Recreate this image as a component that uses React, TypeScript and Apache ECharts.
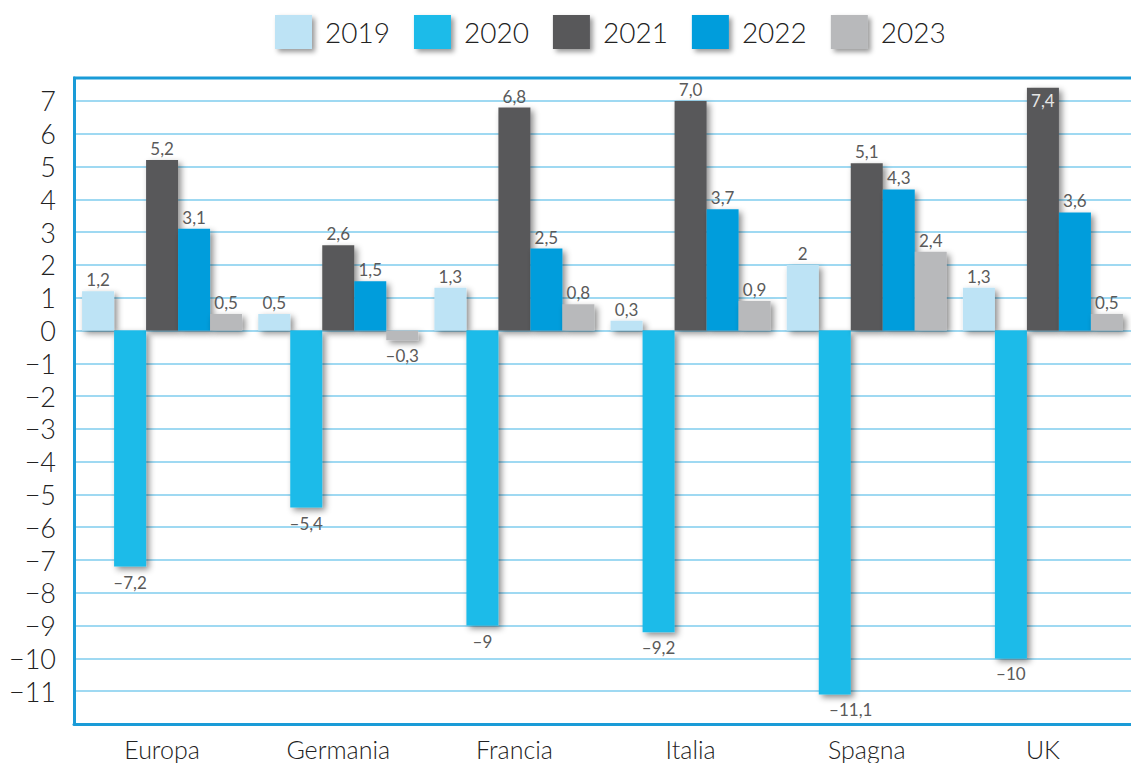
import React, { useEffect, useRef } from "react";
import * as echarts from "echarts";

const categories = ["Europa", "Germania", "Francia", "Italia", "Spagna", "UK"];
const years = ["2019", "2020", "2021", "2022", "2023"];
const values2019 = [1.2, 0.5, 1.3, 0.3, 2, 1.3];
const values2020 = [-7.2, -5.4, -9, -9.2, -11.1, -10];
const values2021 = [5.2, 2.6, 6.8, 7.0, 5.1, 7.4];
const values2022 = [3.1, 1.5, 2.5, 3.7, 4.3, 3.6];
const values2023 = [0.5, -0.3, 0.8, 0.9, 2.4, 0.5];
const labels2019 = ["1,2", "0,5", "1,3", "0,3", "2", "1,3"];
const labels2020 = ["–7,2", "–5,4", "–9", "–9,2", "–11,1", "–10"];
const labels2021 = ["5,2", "2,6", "6,8", "7,0", "5,1", "7,4"];
const labels2022 = ["3,1", "1,5", "2,5", "3,7", "4,3", "3,6"];
const labels2023 = ["0,5", "–0,3", "0,8", "0,9", "2,4", "0,5"];
const yTicks = [-11, -10, -9, -8, -7, -6, -5, -4, -3, -2, -1, 0, 1, 2, 3, 4, 5, 6, 7];

const colors = ["#bde3f5", "#1cbbe9", "#58585a", "#009ddc", "#b8b9bb"];
const allValues = [values2019, values2020, values2021, values2022, values2023];
const allLabels = [labels2019, labels2020, labels2021, labels2022, labels2023];

const labelFont = "'Liberation Sans Narrow', 'Lato', sans-serif";
const mainFont = "'Lato', 'DejaVu Sans', sans-serif";
const frameColor = "#1a9bd7";

export default function App() {
  const ref = useRef<HTMLDivElement>(null);
  useEffect(() => {
    if (!ref.current) return;
    const chart = echarts.init(ref.current, null, { renderer: "svg" });
    const series = years.map((y, si) => ({
      name: y,
      type: "bar",
      barWidth: 32,
      barGap: "0%",
      itemStyle: {
        color: colors[si],
        shadowColor: "rgba(0,0,0,0.45)",
        shadowBlur: 6,
        shadowOffsetX: 3,
        shadowOffsetY: 3,
      },
      data: allValues[si].map((v, ci) => {
        const text = allLabels[si][ci];
        const neg = v < 0;
        const item: any = {
          value: v,
          label: {
            show: true,
            position: neg ? "bottom" : "top",
            distance: neg ? 7 : 3,
            formatter: () => text,
            fontFamily: labelFont,
            fontSize: 17,
            color: "#5a5a5a",
          },
        };
        if (si === 2 && ci === 5) {
          item.label.position = "insideTop";
          item.label.distance = 4;
          item.label.color = "#e6e6e6";
        }
        if (si === 1 && ci === 4) {
          item.label.offset = [16, 0];
        }
        return item;
      }),
    }));
    chart.setOption({
      animation: false,
      color: colors,
      legend: {
        left: 270,
        top: 10,
        itemWidth: 37,
        itemHeight: 34,
        itemGap: 24,
        icon: "rect",
        textStyle: {
          fontFamily: mainFont,
          fontSize: 28,
          color: "#222",
          fontWeight: 300,
          padding: [4, 0, 0, 8],
        },
        itemStyle: {
          shadowColor: "rgba(0,0,0,0.4)",
          shadowBlur: 5,
          shadowOffsetX: 3,
          shadowOffsetY: 3,
        },
        data: years,
      },
      grid: {
        left: 74,
        width: 1062,
        top: 78,
        bottom: 39,
        show: false,
        containLabel: false,
      },
      graphic: [
        {
          type: "line",
          shape: { x1: 73, y1: 78, x2: 1131, y2: 78 },
          style: { stroke: frameColor, lineWidth: 3 },
          z: 10,
        },
      ],
      xAxis: {
        type: "category",
        data: categories,
        axisLine: { show: true, onZero: false, lineStyle: { color: frameColor, width: 3 } },
        axisTick: { show: false },
        axisLabel: {
          margin: 12,
          fontFamily: mainFont,
          fontSize: 25,
          fontWeight: 300,
          color: "#222",
        },
      },
      yAxis: {
        type: "value",
        min: -12,
        max: 7.7,
        interval: 1,
        axisLine: { show: true, lineStyle: { color: frameColor, width: 3 } },
        axisTick: { show: false },
        splitLine: { lineStyle: { color: "#9fd9f2", width: 2 } },
        axisLabel: {
          margin: 18,
          fontFamily: mainFont,
          fontSize: 27,
          fontWeight: 300,
          color: "#222",
          formatter: (v: number) =>
            yTicks.includes(v) ? (v < 0 ? "−" + Math.abs(v) : String(v)) : "",
        },
      },
      series,
    });
    return () => chart.dispose();
  }, []);
  return (
    <div
      ref={ref}
      style={{ width: 1131, height: 763, position: "absolute", left: 0, top: 0, overflow: "hidden" }}
    />
  );
}
